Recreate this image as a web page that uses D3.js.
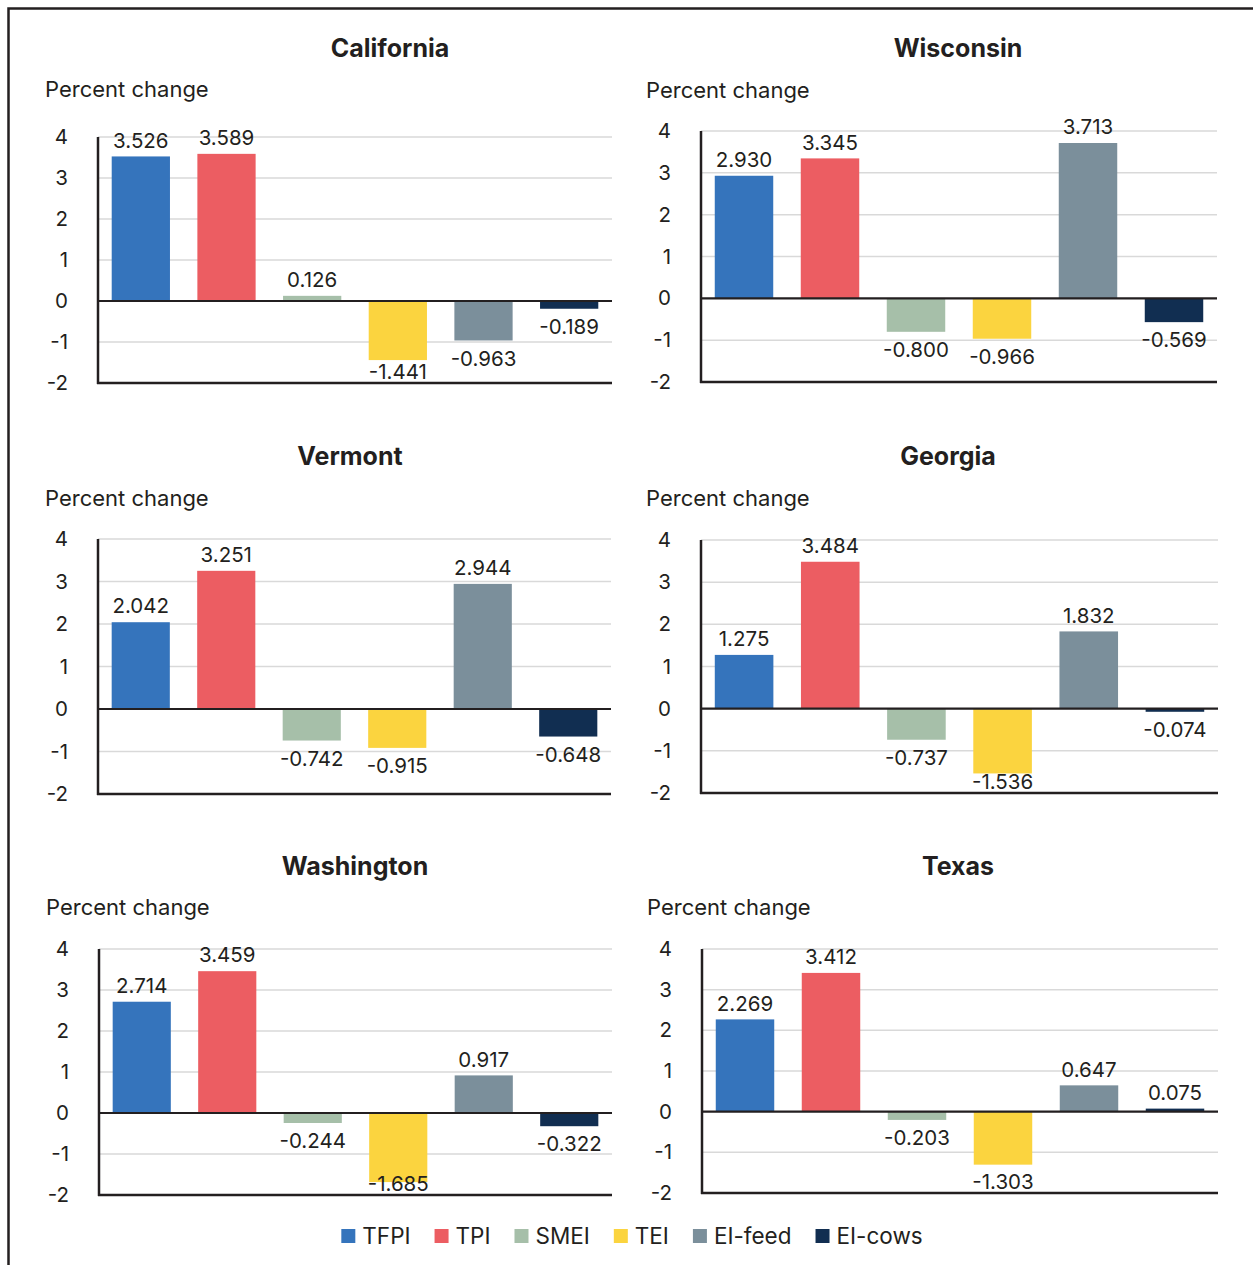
<!DOCTYPE html>
<html><head><meta charset="utf-8">
<script src="https://cdn.jsdelivr.net/npm/d3@7"></script>
<style>
html,body{margin:0;padding:0;background:#fff;}
svg{display:block;font-family:Inter,"Liberation Sans",Arial,sans-serif;}
</style></head>
<body><svg id="chart" width="1253" height="1265"></svg>
<script>
const series = ["TFPI","TPI","SMEI","TEI","EI-feed","EI-cows"];
const seriesColors = ["#3574bc","#ec5d62","#a6bfa9","#fbd43f","#7b8f9b","#112e51"];
const states = ["California","Wisconsin","Vermont","Georgia","Washington","Texas"];
const californiaValues = [3.526, 3.589, 0.126, -1.441, -0.963, -0.189];
const wisconsinValues  = [2.930, 3.345, -0.800, -0.966, 3.713, -0.569];
const vermontValues    = [2.042, 3.251, -0.742, -0.915, 2.944, -0.648];
const georgiaValues    = [1.275, 3.484, -0.737, -1.536, 1.832, -0.074];
const washingtonValues = [2.714, 3.459, -0.244, -1.685, 0.917, -0.322];
const texasValues      = [2.269, 3.412, -0.203, -1.303, 0.647, 0.075];
const yTicks = [4, 3, 2, 1, 0, -1, -2];
const yAxisTitle = "Percent change";

const allValues = [californiaValues, wisconsinValues, vermontValues, georgiaValues, washingtonValues, texasValues];

// layout per panel (pixels)
const layout = [
  {x0:98,  x1:612,  yTop:137, yBot:383, titleX:390, titleY:48,  labX:45,  labY:89},
  {x0:701, x1:1217, yTop:131, yBot:382, titleX:958, titleY:48,  labX:646, labY:90},
  {x0:98,  x1:611,  yTop:539, yBot:794, titleX:350, titleY:456, labX:45,  labY:498},
  {x0:701, x1:1218, yTop:540, yBot:793, titleX:948, titleY:456, labX:646, labY:498},
  {x0:99,  x1:612,  yTop:949, yBot:1195,titleX:355, titleY:866, labX:46,  labY:907},
  {x0:702, x1:1218, yTop:949, yBot:1193,titleX:958, titleY:866, labX:647, labY:907}
];

const svg = d3.select("#chart");
const ink = "#231f20";
const hyph = s => String(s).replace(/\u2212/g, "-");

// frame
svg.append("rect").attr("x",8.5).attr("y",8.5).attr("width",1300).attr("height",1300)
  .attr("fill","none").attr("stroke",ink).attr("stroke-width",2.5);

states.forEach((st, i) => {
  const L = layout[i];
  const vals = allValues[i];
  const g = svg.append("g");
  const x = d3.scaleBand().domain(series).range([L.x0, L.x1]).paddingInner(0.32).paddingOuter(0.16);
  const y = d3.scaleLinear().domain([-2, 4]).range([L.yBot, L.yTop]);

  g.append("text").attr("x", L.titleX).attr("y", L.titleY).attr("dy","0.35em")
    .attr("text-anchor","middle").attr("font-size",25).attr("font-weight",700).attr("fill",ink).text(st);
  g.append("text").attr("x", L.labX).attr("y", L.labY).attr("dy","0.35em")
    .attr("font-size",22).attr("fill",ink).text(yAxisTitle);

  // gridlines
  g.selectAll("line.grid").data(yTicks.filter(t => t !== 0 && t !== -2)).join("line")
    .attr("x1", L.x0).attr("x2", L.x1).attr("y1", d => y(d)).attr("y2", d => y(d))
    .attr("stroke","#d9d9d9").attr("stroke-width",1.5);

  // y axis with d3
  const axis = d3.axisLeft(y).tickValues(yTicks).tickSize(0).tickPadding(30).tickFormat(d => hyph(d3.format("d")(d)));
  const ag = g.append("g").attr("transform",`translate(${L.x0},0)`).call(axis);
  ag.select(".domain").remove();
  ag.selectAll("text").attr("font-size",20.5).attr("fill",ink).attr("font-family","Inter,'Liberation Sans',Arial,sans-serif");

  // bars
  g.selectAll("rect.bar").data(vals).join("rect")
    .attr("x", (d, j) => x(series[j]))
    .attr("width", x.bandwidth())
    .attr("y", d => d >= 0 ? y(d) : y(0))
    .attr("height", d => Math.abs(y(d) - y(0)))
    .attr("fill", (d, j) => seriesColors[j]);

  // axis lines
  g.append("line").attr("x1", L.x0-1).attr("x2", L.x1).attr("y1", y(0)).attr("y2", y(0))
    .attr("stroke", ink).attr("stroke-width",2.2);
  g.append("line").attr("x1", L.x0-1).attr("x2", L.x1).attr("y1", y(-2)).attr("y2", y(-2))
    .attr("stroke", ink).attr("stroke-width",2.5);
  g.append("line").attr("x1", L.x0).attr("x2", L.x0).attr("y1", y(4)).attr("y2", y(-2)+1)
    .attr("stroke", ink).attr("stroke-width",2.5);

  // value labels
  const fmt = d3.format(".3f");
  g.selectAll("text.val").data(vals).join("text")
    .attr("x", (d, j) => x(series[j]) + x.bandwidth()/2)
    .attr("y", d => d >= 0 ? y(d) - 16 : Math.min(y(d) + 18, L.yBot - 11))
    .attr("dy","0.35em").attr("text-anchor","middle").attr("font-size",20.5).attr("fill",ink)
    .text(d => hyph(fmt(d)));
});

// legend
const lg = svg.append("g");
const items = lg.selectAll("g").data(series).join("g");
items.append("rect").attr("width",14).attr("height",14).attr("y",-7).attr("fill",(d,j)=>seriesColors[j]);
items.append("text").attr("x",21).attr("dy","0.35em").attr("font-size",22.5).attr("fill",ink).text(d=>d);
let cx = 0;
const pos = [];
items.each(function(){ const w = d3.select(this).select("text").node().getComputedTextLength(); pos.push(cx); cx += 21 + w + 24; });
const total = cx - 24;
const startX = 632 - total/2;
items.attr("transform",(d,j)=>`translate(${startX+pos[j]},1236)`);
</script>
</body></html>
